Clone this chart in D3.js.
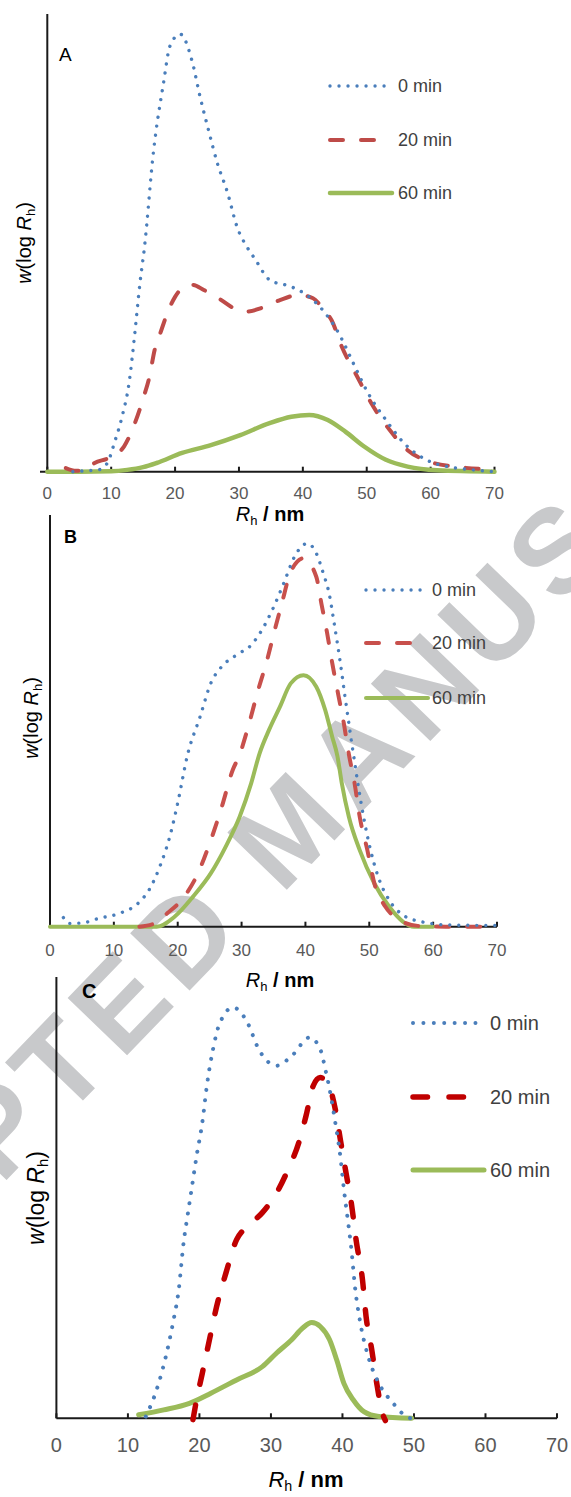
<!DOCTYPE html>
<html><head><meta charset="utf-8">
<script src="https://cdn.jsdelivr.net/npm/d3@7"></script>
<style>
body{margin:0;background:#fff}
svg{display:block}
text{font-family:"Liberation Sans",Arial,Helvetica,sans-serif}
</style>
</head><body>
<svg id="chart" width="571" height="1497"></svg>
<script>
// ---------------- DATA ----------------
const xTicks = [0, 10, 20, 30, 40, 50, 60, 70];
const seriesNames = ["0 min", "20 min", "60 min"];
const panelLabels = ["A", "B", "C"];
const watermarkText = "ACCEPTED MANUSCRIPT";

// Panel A: [Rh (nm), w(log Rh) in % of axis height]
const A_0min = [[4,0],[6,0.2],[8,0.4],[9.4,1.9],[10.5,6.3],[11.7,12],[12.8,19.4],[13.7,30.3],[14.5,41.2],[15.2,48.9],[16.6,69.7],[18.2,85],[19.2,93],[20.8,95.6],[22.7,89.5],[23.9,82],[25.2,74.8],[26.6,67.5],[28.2,61],[29.7,53.5],[31.3,49],[32.5,46.5],[34.8,41.9],[38.2,40.4],[41,38.2],[43.3,35],[45.6,30.3],[47.9,23.7],[50.2,17.2],[53,11.3],[55.8,6.3],[59.3,2.6],[62.7,1.1],[66.6,0.4],[70,0]];
const A_20min = [[2.9,0.8],[4.5,0.2],[5.8,0.3],[7.4,1.9],[9.6,3],[12,5.5],[13.7,10.6],[15.1,16.4],[16,20.8],[16.8,26.6],[17.7,30.3],[18.8,34.7],[20,38.2],[21.4,40.4],[22.8,40.8],[24.5,39.7],[26.8,37.9],[29.1,35.8],[31.3,35],[33.6,35.8],[36.4,37.5],[39.3,38.6],[41.6,37.9],[43.3,35.3],[44.5,33.1],[46.1,27.3],[48.5,20.8],[50.7,15],[53.6,9.1],[56.4,4.7],[59.8,2.2],[63.8,1.1],[70,0.5]];
const A_60min = [[0,0],[5,0],[10,0.1],[12.5,0.4],[15,1],[17.1,1.9],[21.1,4.1],[25.6,5.8],[30.2,8],[34.8,10.6],[38.2,12],[41,12.4],[43.9,11.3],[46.7,8.7],[49.6,5.5],[53,2.6],[56.4,1.1],[61,0.3],[70,0]];

// Panel B
const B_0min = [[2.1,2.2],[3,0.8],[5,0.9],[7.6,2],[11,3.3],[13.8,5.7],[15.5,8.9],[17.2,14.6],[18.9,22.7],[20.1,30.8],[21.5,41.5],[23.5,51],[25.2,59.2],[26.9,63.2],[29.2,66],[31.5,68.4],[33.2,72.1],[34.8,76.9],[36.6,83.4],[38.3,89.9],[40.3,93.1],[41.7,90.7],[42.8,85.8],[43.7,81],[44.5,73.7],[45.4,64.8],[46.2,55.9],[47.1,46.2],[47.7,40],[48.2,34.9],[49.1,26.7],[50.2,18.6],[51.4,12.1],[53.1,6.5],[55.3,2.8],[58.2,1.2],[62.7,0.4],[70,0.3]];
const B_20min = [[14,0],[16.4,0.8],[18.4,3.3],[20.6,6.5],[22.9,12.1],[25.2,21.1],[26.9,29.1],[28.6,38],[29.7,41.8],[30.9,47.8],[32.6,57.5],[34,64.8],[35.2,72.1],[36.3,78.5],[37.7,86.2],[39.7,89.5],[41.7,85],[42.5,78.5],[43.4,71.3],[44.2,64],[45.1,56.7],[46,49.5],[46.8,41.9],[47.7,34.8],[48.5,26.7],[49.7,18.6],[50.8,10.5],[52.5,4.9],[54.8,1.6],[57.6,0.2],[62,0],[68,0]];
const B_60min = [[0,0],[10,0],[16.7,0],[19.5,2.4],[22.4,7.3],[25.2,13],[27.5,19.4],[29.7,26.7],[31.5,34.8],[32.8,42],[34.3,47.8],[36,53.4],[37.7,59.1],[39.7,61.1],[41.7,58.3],[43.1,52.6],[44.2,46.1],[45,41.5],[45.7,34.8],[46.8,26.7],[48.5,18.6],[50.8,10.5],[53.1,4.9],[55.3,1.2],[57,0],[60,0]];

// Panel C
const C_0min = [[12.5,0.4],[14,6.4],[15.3,14],[16.3,21.6],[17.1,29.1],[17.8,40],[18.3,45.5],[18.9,51.9],[19.6,59.4],[20.4,67],[21.1,76.1],[21.9,83.6],[22.7,88.9],[24.7,93.1],[26.7,89.7],[28.3,83.6],[30.8,79.9],[32.9,82.1],[35.4,86.3],[36.9,83.6],[37.7,78.4],[38.2,74.6],[39,67],[39.7,59.4],[40.2,51.9],[40.8,44.3],[41.2,39],[41.8,29.1],[42.5,21.6],[43.6,14],[45.1,7.9],[47.1,3.4],[48.6,0.8],[49.5,0]];
const C_20min = [[19.1,-0.3],[19.6,4.2],[20.4,10.2],[21.4,17.8],[22.4,25.3],[23.7,32.9],[25.2,40.5],[26.2,42.8],[28.8,46.6],[30.8,51.1],[32.4,56.4],[33.9,62.5],[34.9,68.5],[35.9,75.3],[36.9,77.2],[37.9,76.1],[39,70],[39.7,63.2],[40.5,55.6],[41.3,48.1],[41.9,40.5],[42.8,31.4],[43.3,23.1],[44.1,15.5],[44.8,7.9],[45.6,1.1],[46,-0.5]];
const C_60min = [[11.5,0.8],[15,1.9],[18.6,3.4],[21.6,5.7],[25.2,8.7],[28.8,11.7],[30.8,14.8],[32.9,17.8],[34.4,20.4],[35.7,21.7],[36.9,20.8],[38.2,17.8],[39.2,13.2],[40.2,7.9],[41.5,4.2],[43,1.5],[45.1,0.4],[49.7,0]];

// ---------------- LAYOUT ----------------
const svg = d3.select("#chart");

// watermark (behind everything)
svg.append("text")
  .attr("transform", "translate(-263,1459) rotate(-46)")
  .attr("font-size", 120).attr("font-weight", "bold")
  .attr("letter-spacing", 10)
  .attr("fill", "#c8c9cb")
  .text(watermarkText);

const panels = [
  { data:[A_0min, A_20min, A_60min], label:panelLabels[0],
    x0:47.3, x1:494.5, yb:471.7, yt:14, axStart:40,
    lab:{x:59, y:61, fs:19, bold:false},
    tickFs:17, tickY:499, title:{x:270, y:521, fs:20},
    ylab:{x:31, y:243, fs:20},
    leg:{x:330, ys:[86,140,193], lens:[55,48,62], tx:398, fs:18},
    w:[3.4,4,4.5], red:"#be4b48", dot:9, dash:"13 18" },
  { data:[B_0min, B_20min, B_60min], label:panelLabels[1],
    x0:50, x1:497, yb:926.7, yt:515, axStart:50,
    lab:{x:64, y:543, fs:18, bold:true},
    tickFs:17, tickY:956, title:{x:280, y:987, fs:20},
    ylab:{x:38, y:718, fs:20},
    leg:{x:366, ys:[590,643,698], lens:[57,47,62], tx:432, fs:18},
    w:[3.4,4,4], red:"#c8504c", dot:9, dash:"13 18" },
  { data:[C_0min, C_20min, C_60min], label:panelLabels[2],
    x0:56.4, x1:557, yb:1418.3, yt:977, axStart:56.4,
    lab:{x:82, y:998, fs:20, bold:true},
    tickFs:20, tickY:1452, title:{x:306, y:1487, fs:22},
    ylab:{x:44, y:1198, fs:23},
    leg:{x:413, ys:[1023,1097,1170], lens:[66,57,71], tx:490, fs:20},
    w:[4,5.5,5], red:"#c00000", dot:10.4, dash:"14.5 21.5" }
];

const blue = "#4a7ebb", green = "#9bbb59";

panels.forEach(p => {
  const g = svg.append("g");
  const x = d3.scaleLinear().domain([0, 70]).range([p.x0, p.x1]);
  const y = d3.scaleLinear().domain([0, 100]).range([p.yb, p.yt]);

  // axes
  g.append("line").attr("x1", p.axStart).attr("x2", p.x1)
    .attr("y1", p.yb).attr("y2", p.yb).attr("stroke", "#1a1a1a").attr("stroke-width", 2);
  g.append("line").attr("x1", p.x0).attr("x2", p.x0)
    .attr("y1", p.yt).attr("y2", p.yb).attr("stroke", "#1a1a1a").attr("stroke-width", 2);
  g.selectAll(".tk").data(xTicks).enter().append("line")
    .attr("x1", d => x(d)).attr("x2", d => x(d))
    .attr("y1", p.yb).attr("y2", p.yb - 5)
    .attr("stroke", "#1a1a1a").attr("stroke-width", 2);
  g.selectAll(".tl").data(xTicks).enter().append("text")
    .attr("x", d => x(d)).attr("y", p.tickY)
    .attr("text-anchor", "middle").attr("font-size", p.tickFs)
    .attr("fill", "#595959").text(d => d);

  // x title
  const t = g.append("text").attr("x", p.title.x).attr("y", p.title.y)
    .attr("text-anchor", "middle").attr("font-size", p.title.fs).attr("fill", "#000");
  t.append("tspan").attr("font-style", "italic").text("R");
  t.append("tspan").attr("font-size", p.title.fs * 0.65).attr("dy", 4).text("h");
  t.append("tspan").attr("dy", -4).attr("font-weight", "bold").text(" / nm");

  // y title
  const yl = g.append("text")
    .attr("transform", `translate(${p.ylab.x},${p.ylab.y}) rotate(-90)`)
    .attr("text-anchor", "middle").attr("font-size", p.ylab.fs).attr("fill", "#000");
  yl.append("tspan").attr("font-style", "italic").text("w");
  yl.append("tspan").text("(log ");
  yl.append("tspan").attr("font-style", "italic").text("R");
  yl.append("tspan").attr("font-size", p.ylab.fs * 0.65).attr("dy", 4).text("h");
  yl.append("tspan").attr("dy", -4).text(")");

  // panel label
  g.append("text").attr("x", p.lab.x).attr("y", p.lab.y)
    .attr("font-size", p.lab.fs).attr("font-weight", p.lab.bold ? "bold" : "normal")
    .attr("fill", "#000").text(p.label);

  // series
  const line = d3.line().x(d => x(d[0])).y(d => y(d[1])).curve(d3.curveMonotoneX);
  const styles = [
    { stroke: blue, w: p.w[0], dash: `0.01 ${p.dot}`, cap: "round" },
    { stroke: p.red, w: p.w[1], dash: p.dash, cap: "round" },
    { stroke: green, w: p.w[2], dash: null, cap: "round" }
  ];
  // draw green first, then red, then blue on top
  [2, 1, 0].forEach(i => {
    g.append("path").datum(p.data[i]).attr("d", line)
      .attr("fill", "none").attr("stroke", styles[i].stroke)
      .attr("stroke-width", styles[i].w)
      .attr("stroke-linecap", styles[i].cap).attr("stroke-linejoin", "round")
      .attr("stroke-dasharray", styles[i].dash);
  });

  // legend
  seriesNames.forEach((name, i) => {
    const ly = p.leg.ys[i];
    g.append("line").attr("x1", p.leg.x).attr("x2", p.leg.x + p.leg.lens[i])
      .attr("y1", ly).attr("y2", ly)
      .attr("stroke", styles[i].stroke).attr("stroke-width", styles[i].w)
      .attr("stroke-linecap", styles[i].cap).attr("stroke-dasharray", styles[i].dash);
    g.append("text").attr("x", p.leg.tx).attr("y", ly + p.leg.fs * 0.36)
      .attr("font-size", p.leg.fs).attr("fill", "#404040").text(name);
  });
});
</script>
</body></html>
